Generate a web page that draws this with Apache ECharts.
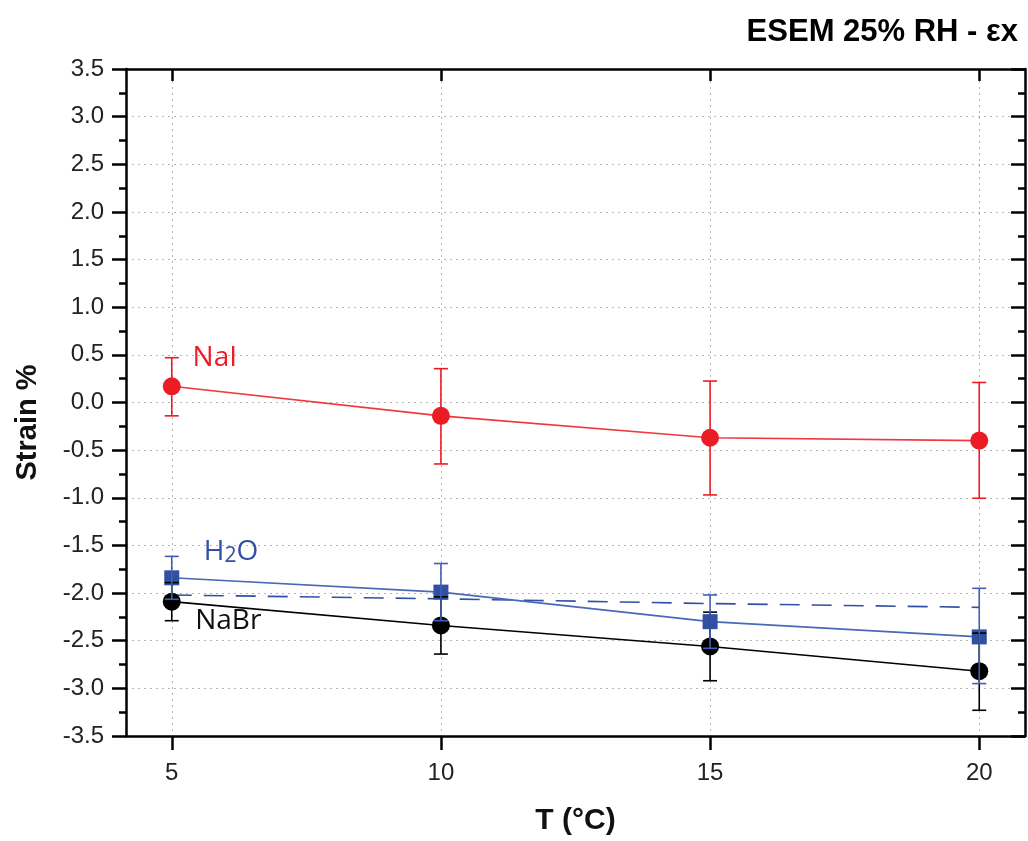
<!DOCTYPE html>
<html>
<head>
<meta charset="utf-8">
<script src="https://cdn.jsdelivr.net/npm/echarts@6/dist/echarts.min.js"></script>
<style>html,body{margin:0;padding:0;background:#fff;}#c{width:1028px;height:841px;}</style>
</head>
<body>
<div id="c"></div>
<script>
// ---- data ----
const temps = [5, 10, 15, 20];
const xTicks = [5, 10, 15, 20];
const naiVals  = [0.17, -0.14, -0.37, -0.40];
const naiHigh  = [0.47, 0.355, 0.225, 0.21];
const naiLow   = [-0.14, -0.645, -0.97, -1.005];
const h2oVals  = [-1.84, -1.99, -2.30, -2.46];
const h2oHigh  = [-1.615, -1.69, -2.02, -1.95];
const h2oLow   = [-2.065, -2.29, -2.58, -2.95];
const nabrVals = [-2.09, -2.34, -2.56, -2.82];
const nabrHigh = [-1.89, -2.04, -2.20, -2.42];
const nabrLow  = [-2.29, -2.64, -2.92, -3.23];
const h2oDashed = [-2.02, -2.06, -2.11, -2.15];
const labelNaI  = {text: 'NaI',  x: 5.8,  y: 0.47};
const labelH2O  = {text: 'H2O',  x: 6.1,  y: -1.57};
const labelNaBr = {text: 'NaBr', x: 6.05, y: -2.29};

const RED = '#ec1c24', BLUE = '#3050a2', BLACK = '#000000';

const pts = (ys) => temps.map((t, i) => [t, ys[i]]);
const errData = (lo, hi) => temps.map((t, i) => [t, lo[i], hi[i]]);

function errRender(color) {
  return function (params, api) {
    const x = api.value(0), lo = api.value(1), hi = api.value(2);
    const a = api.coord([x, lo]), b = api.coord([x, hi]);
    const hw = 7;
    const st = {stroke: color, lineWidth: 1.6};
    return {type: 'group', children: [
      {type: 'line', shape: {x1: a[0], y1: a[1], x2: b[0], y2: b[1]}, style: st},
      {type: 'line', shape: {x1: a[0] - hw, y1: a[1], x2: a[0] + hw, y2: a[1]}, style: st},
      {type: 'line', shape: {x1: b[0] - hw, y1: b[1], x2: b[0] + hw, y2: b[1]}, style: st}
    ]};
  };
}

const FONT = 'Liberation Sans';
const gridLine = {show: true, lineStyle: {color: '#b4b4b4', width: 1, type: [2, 4]}};

const chart = echarts.init(document.getElementById('c'), null, {renderer: 'canvas'});
chart.setOption({
  animation: false,
  backgroundColor: '#fff',
  title: {
    text: 'ESEM 25% RH - εx',
    right: 5, top: 12,
    textStyle: {fontFamily: FONT, fontWeight: 'bold', fontSize: 31, color: '#000'}
  },
  grid: {left: 126, right: 3, top: 69, bottom: 99, containLabel: false},
  xAxis: [{
    type: 'value', min: 4.15, max: 20.85, position: 'bottom',
    axisLine: {show: true, onZero: false, lineStyle: {color: '#000', width: 2.5}},
    axisTick: {show: true, inside: false, length: 14, lineStyle: {color: '#000', width: 2.5}, customValues: xTicks},
    axisLabel: {show: true, margin: 25, fontFamily: FONT, fontSize: 24, color: '#222', customValues: xTicks, formatter: v => String(v)},
    splitLine: gridLine,
    name: 'T (°C)', nameLocation: 'middle', nameGap: 70,
    nameTextStyle: {fontFamily: FONT, fontWeight: 'bold', fontSize: 30, color: '#111'}
  }, {
    type: 'value', min: 4.15, max: 20.85, position: 'top',
    axisLine: {show: true, onZero: false, lineStyle: {color: '#000', width: 2.5}},
    axisTick: {show: true, inside: true, length: 12, lineStyle: {color: '#000', width: 2.5}, customValues: xTicks},
    axisLabel: {show: false},
    splitLine: {show: false}
  }],
  yAxis: [{
    type: 'value', min: -3.5, max: 3.5, interval: 0.5, position: 'left',
    axisLine: {show: true, onZero: false, lineStyle: {color: '#000', width: 2.5}},
    axisTick: {show: true, inside: false, length: 14, lineStyle: {color: '#000', width: 2.5}},
    minorTick: {show: true, splitNumber: 2, length: 7, lineStyle: {color: '#000', width: 2.5}},
    axisLabel: {margin: 22, fontFamily: FONT, fontSize: 24, color: '#222', formatter: v => v.toFixed(1)},
    splitLine: gridLine,
    name: 'Strain %', nameLocation: 'middle', nameGap: 84, nameRotate: 90,
    nameTextStyle: {fontFamily: FONT, fontWeight: 'bold', fontSize: 29, color: '#111', padding: [0, 40, 0, 0]}
  }, {
    type: 'value', min: -3.5, max: 3.5, interval: 0.5, position: 'right',
    axisLine: {show: true, onZero: false, lineStyle: {color: '#000', width: 2.5}},
    axisTick: {show: true, inside: true, length: 14, lineStyle: {color: '#000', width: 2.5}},
    minorTick: {show: true, splitNumber: 2, length: 7, lineStyle: {color: '#000', width: 2.5}},
    axisLabel: {show: false},
    splitLine: {show: false}
  }],
  series: [
    {
      name: 'H2O fit', type: 'line', data: pts(h2oDashed), symbol: 'none',
      lineStyle: {color: BLUE, width: 1.6, type: [20, 12]}, z: 2
    },
    {
      name: 'NaBr', type: 'line', data: pts(nabrVals), symbol: 'circle', symbolSize: 18,
      itemStyle: {color: BLACK}, lineStyle: {color: BLACK, width: 1.6}, z: 3,
      markPoint: {symbol: 'circle', symbolSize: 0, silent: true,
        data: [{coord: [labelNaBr.x, labelNaBr.y], value: labelNaBr.text}],
        label: {show: true, position: 'inside', formatter: labelNaBr.text, color: '#111', fontFamily: 'Open Sans', fontSize: 28}}
    },
    {
      name: 'H2O', type: 'line', data: pts(h2oVals), symbol: 'rect', symbolSize: 15,
      itemStyle: {color: BLUE}, lineStyle: {color: '#4a68b8', width: 1.6}, z: 4,
      markPoint: {symbol: 'circle', symbolSize: 0, silent: true,
        data: [{coord: [labelH2O.x, labelH2O.y], value: labelH2O.text}],
        label: {show: true, position: 'inside', formatter: 'H{s|2}O', color: BLUE, fontFamily: 'Open Sans', fontSize: 28,
          rich: {s: {fontFamily: 'Open Sans', fontSize: 21, color: BLUE, verticalAlign: 'bottom'}}}}
    },
    {
      name: 'NaI', type: 'line', data: pts(naiVals), symbol: 'circle', symbolSize: 18,
      itemStyle: {color: RED}, lineStyle: {color: '#f0383f', width: 1.6}, z: 5,
      markPoint: {symbol: 'circle', symbolSize: 0, silent: true,
        data: [{coord: [labelNaI.x, labelNaI.y], value: labelNaI.text}],
        label: {show: true, position: 'inside', formatter: labelNaI.text, color: RED, fontFamily: 'Open Sans', fontSize: 28}}
    },
    {type: 'custom', name: 'NaBr err', data: errData(nabrLow, nabrHigh), renderItem: errRender(BLACK), encode: {x: 0, y: [1, 2]}, z: 6},
    {type: 'custom', name: 'H2O err', data: errData(h2oLow, h2oHigh), renderItem: errRender('#3f5fb4'), encode: {x: 0, y: [1, 2]}, z: 7},
    {type: 'custom', name: 'NaI err', data: errData(naiLow, naiHigh), renderItem: errRender(RED), encode: {x: 0, y: [1, 2]}, z: 8}
  ]
});
</script>
</body>
</html>
